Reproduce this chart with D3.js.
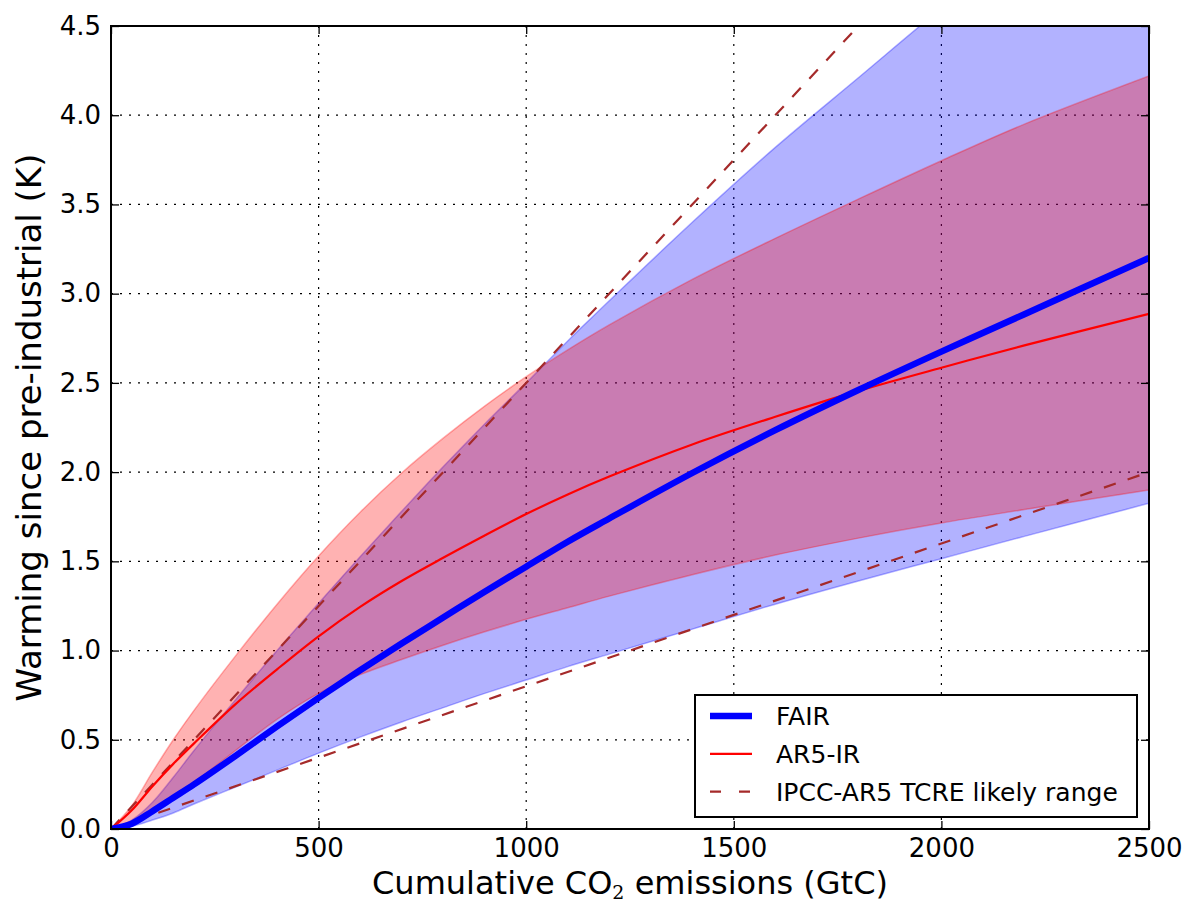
<!DOCTYPE html>
<html>
<head>
<meta charset="utf-8">
<script src="https://cdn.jsdelivr.net/npm/d3@7"></script>
<style>
  body { margin: 0; background: #fff; }
  text { font-family: "DejaVu Sans", sans-serif; fill: #000; }
</style>
</head>
<body>
<svg id="chart"></svg>
<script>
// cumulative emissions (GtC) at which every series is read
const emissions = [0, 50, 100, 150, 200, 300, 400, 500, 600, 700, 800, 900, 1000, 1100, 1200, 1400, 1600, 1800, 2000, 2200, 2500];

// FAIR response (K)
const fairMid  = [0, 0.03, 0.10, 0.175, 0.25, 0.41, 0.575, 0.735, 0.89, 1.04, 1.185, 1.33, 1.47, 1.61, 1.74, 1.995, 2.235, 2.46, 2.675, 2.885, 3.20];
const fairLow  = [0, 0.015, 0.05, 0.09, 0.14, 0.235, 0.33, 0.425, 0.515, 0.60, 0.68, 0.76, 0.835, 0.91, 0.98, 1.12, 1.26, 1.39, 1.515, 1.64, 1.825];
const fairHigh = [0, 0.05, 0.15, 0.29, 0.44, 0.725, 1.00, 1.265, 1.525, 1.78, 2.03, 2.27, 2.50, 2.735, 2.96, 3.40, 3.82, 4.21, 4.60, 4.97, 5.50];

// AR5 impulse response (K)
const ar5Mid  = [0, 0.105, 0.24, 0.365, 0.48, 0.70, 0.895, 1.08, 1.245, 1.39, 1.52, 1.645, 1.765, 1.875, 1.975, 2.155, 2.31, 2.455, 2.585, 2.71, 2.887];
const ar5Low  = [0, 0.035, 0.10, 0.18, 0.26, 0.44, 0.615, 0.76, 0.865, 0.95, 1.03, 1.105, 1.175, 1.24, 1.305, 1.425, 1.535, 1.63, 1.715, 1.79, 1.90];
const ar5High = [0, 0.13, 0.32, 0.50, 0.665, 0.97, 1.26, 1.53, 1.775, 1.995, 2.19, 2.37, 2.535, 2.685, 2.825, 3.08, 3.31, 3.53, 3.745, 3.95, 4.22];

// IPCC AR5 TCRE likely range, straight lines [emissions, K]
const tcreLow  = [[0, 0], [2500, 2.0]];
const tcreHigh = [[0, 0], [2500, 6.25]];

const xTicks = [0, 500, 1000, 1500, 2000, 2500];
const yTicks = [0, 0.5, 1.0, 1.5, 2.0, 2.5, 3.0, 3.5, 4.0, 4.5];

const legendLabels = ["FAIR", "AR5-IR", "IPCC-AR5 TCRE likely range"];

const config = {
  width: 1188,
  height: 905,
  margin: {top: 26, right: 39, bottom: 76, left: 111}
};
const innerW = config.width - config.margin.left - config.margin.right;
const innerH = config.height - config.margin.top - config.margin.bottom;

const svg = d3.select('#chart')
  .attr('width', config.width)
  .attr('height', config.height);

const chart = svg.append('g')
  .attr('transform', `translate(${config.margin.left},${config.margin.top})`);

const xScale = d3.scaleLinear().domain([0, 2500]).range([0, innerW]);
const yScale = d3.scaleLinear().domain([0, 4.5]).range([innerH, 0]);

svg.append('defs').append('clipPath').attr('id', 'plotclip')
  .append('rect').attr('width', innerW).attr('height', innerH);

// grid (dotted)
const grid = chart.append('g');
grid.selectAll('.vgrid').data(xTicks).enter().append('line')
  .attr('x1', d => xScale(d)).attr('x2', d => xScale(d))
  .attr('y1', 0).attr('y2', innerH)
  .attr('stroke', '#000').attr('stroke-width', 1.2).attr('stroke-dasharray', '2,7');
grid.selectAll('.hgrid').data(yTicks).enter().append('line')
  .attr('y1', d => yScale(d)).attr('y2', d => yScale(d))
  .attr('x1', 0).attr('x2', innerW)
  .attr('stroke', '#000').attr('stroke-width', 1.2).attr('stroke-dasharray', '2,7');

const marks = chart.append('g').attr('clip-path', 'url(#plotclip)');

const bandData = (lo, hi) => emissions.map((e, i) => ({x: e, lo: lo[i], hi: hi[i]}));
const curve = d3.curveCatmullRom.alpha(0.5);
const area = d3.area()
  .x(d => xScale(d.x)).y0(d => yScale(d.lo)).y1(d => yScale(d.hi))
  .curve(curve);
const line = d3.line()
  .x(d => xScale(d[0])).y(d => yScale(d[1]))
  .curve(curve);

// FAIR band then AR5 band
marks.append('path').datum(bandData(fairLow, fairHigh))
  .attr('d', area)
  .attr('fill', 'blue').attr('fill-opacity', 0.3)
  .attr('stroke', 'blue').attr('stroke-opacity', 0.3).attr('stroke-width', 1.5);
marks.append('path').datum(bandData(ar5Low, ar5High))
  .attr('d', area)
  .attr('fill', 'red').attr('fill-opacity', 0.3)
  .attr('stroke', 'red').attr('stroke-opacity', 0.3).attr('stroke-width', 1.5);

// TCRE dashed
[tcreLow, tcreHigh].forEach(pts => {
  marks.append('path').datum(pts)
    .attr('d', d3.line().x(d => xScale(d[0])).y(d => yScale(d[1])))
    .attr('fill', 'none').attr('stroke', '#a52a2a').attr('stroke-width', 2.2)
    .attr('stroke-dasharray', '12.5,12.5');
});

// AR5-IR central
marks.append('path').datum(emissions.map((e, i) => [e, ar5Mid[i]]))
  .attr('d', line)
  .attr('fill', 'none').attr('stroke', 'red').attr('stroke-width', 2.2);

// FAIR central
marks.append('path').datum(emissions.map((e, i) => [e, fairMid[i]]))
  .attr('d', line)
  .attr('fill', 'none').attr('stroke', 'blue').attr('stroke-width', 6.5);

// axes (ticks pointing inward, mirrored on top/right)
const tickLen = 8;
const xAxisG = chart.append('g').attr('transform', `translate(0,${innerH})`)
  .call(d3.axisBottom(xScale).tickValues(xTicks).tickSize(-tickLen).tickPadding(10).tickFormat(d3.format('d')));
const xAxisTop = chart.append('g')
  .call(d3.axisTop(xScale).tickValues(xTicks).tickSize(-tickLen).tickFormat(''));
const yAxisG = chart.append('g')
  .call(d3.axisLeft(yScale).tickValues(yTicks).tickSize(-tickLen).tickPadding(10).tickFormat(d3.format('.1f')));
const yAxisRight = chart.append('g').attr('transform', `translate(${innerW},0)`)
  .call(d3.axisRight(yScale).tickValues(yTicks).tickSize(-tickLen).tickFormat(''));

[xAxisG, xAxisTop, yAxisG, yAxisRight].forEach(g => {
  g.select('.domain').remove();
  g.selectAll('.tick line').attr('stroke', '#000').attr('stroke-width', 1.3);
  g.selectAll('.tick text').attr('font-size', '26px').attr('font-family', '"DejaVu Sans", sans-serif').attr('fill', '#000');
});

chart.append('rect')
  .attr('width', innerW).attr('height', innerH)
  .attr('fill', 'none').attr('stroke', '#000').attr('stroke-width', 2);

// axis titles
const xTitle = svg.append('text')
  .attr('text-anchor', 'middle')
  .attr('x', config.margin.left + innerW / 2)
  .attr('y', 894)
  .attr('font-size', '32px');
xTitle.append('tspan').text('Cumulative CO');
xTitle.append('tspan').attr('font-size', '19px').attr('dy', 5)
  .attr('font-family', '"DejaVu Serif", serif').text('2');
xTitle.append('tspan').attr('dy', -5).text(' emissions (GtC)');

svg.append('text')
  .attr('text-anchor', 'middle')
  .attr('transform', `translate(41,${config.margin.top + innerH / 2}) rotate(-90)`)
  .attr('font-size', '34px')
  .text('Warming since pre-industrial (K)');

// legend
const legend = chart.append('g')
  .attr('transform', `translate(${xScale(2500) - 12 - 442},${innerH - 12 - 122})`);
legend.append('rect')
  .attr('width', 442).attr('height', 122)
  .attr('fill', '#fff').attr('stroke', '#000').attr('stroke-width', 2);

const legendStyles = [
  {stroke: 'blue', width: 6.5, dash: null},
  {stroke: 'red', width: 2.2, dash: null},
  {stroke: '#a52a2a', width: 2.2, dash: '11,18'}
];
legendLabels.forEach((lab, i) => {
  const y = 21 + i * 37.8;
  const st = legendStyles[i];
  legend.append('line')
    .attr('x1', 15).attr('x2', 57).attr('y1', y).attr('y2', y)
    .attr('stroke', st.stroke).attr('stroke-width', st.width)
    .attr('stroke-dasharray', st.dash);
  legend.append('text')
    .attr('x', 81).attr('y', y).attr('dy', '0.36em')
    .attr('font-size', '25px')
    .text(lab);
});
</script>
</body>
</html>
